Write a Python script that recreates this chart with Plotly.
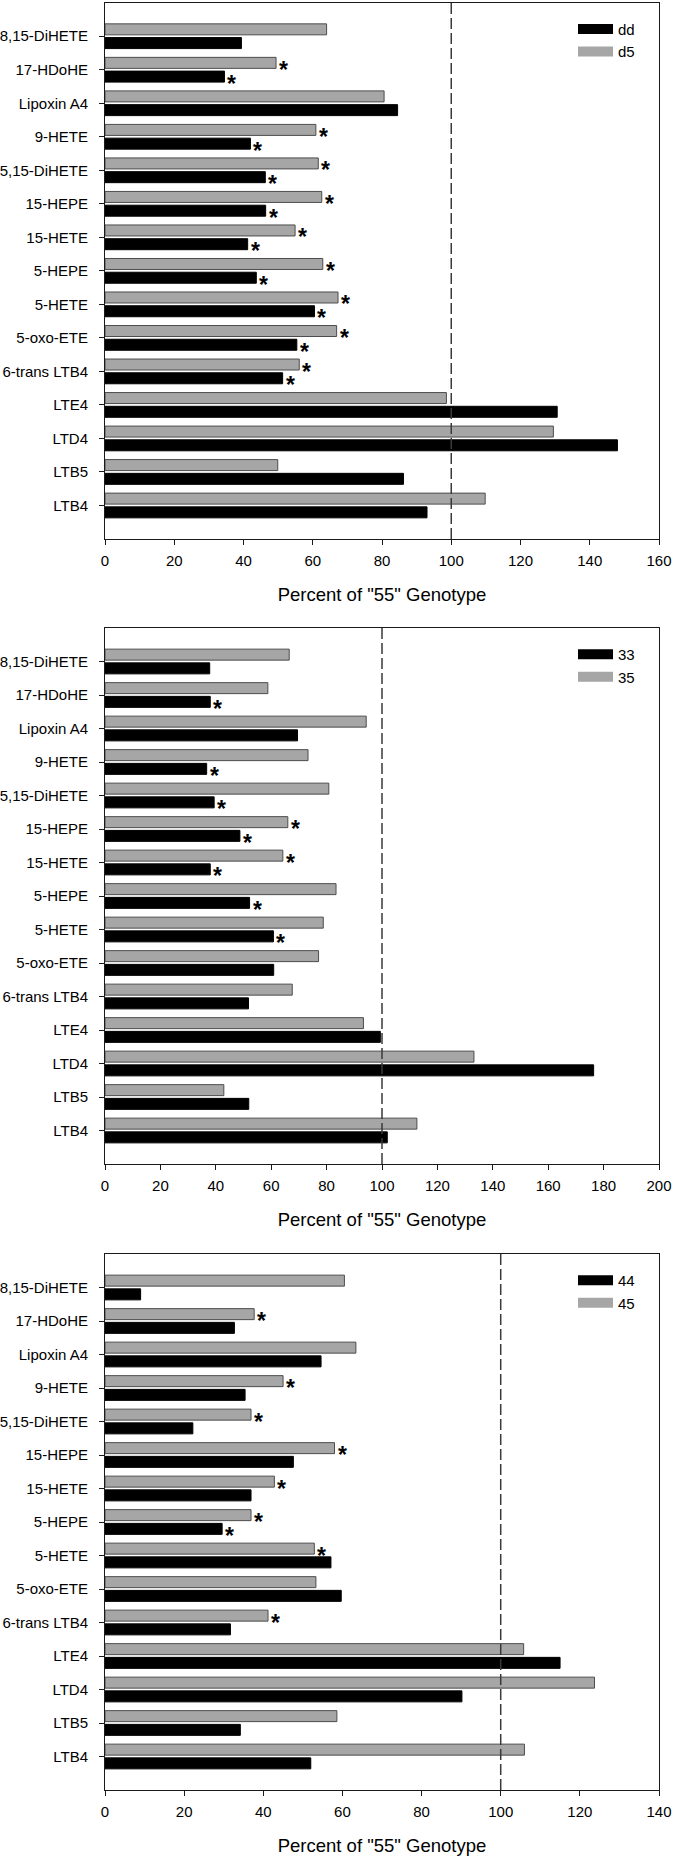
import plotly.graph_objects as go

# ---------------- data (top-to-bottom order) ----------------
categories = ["8,15-DiHETE", "17-HDoHE", "Lipoxin A4", "9-HETE", "5,15-DiHETE",
              "15-HEPE", "15-HETE", "5-HEPE", "5-HETE", "5-oxo-ETE",
              "6-trans LTB4", "LTE4", "LTD4", "LTB5", "LTB4"]

p1_names = ["dd", "d5"]
p1_black = [39.4, 34.5, 84.5, 42.0, 46.3, 46.4, 41.2, 43.7, 60.5, 55.4, 51.3, 130.6, 148.0, 86.2, 93.0]
p1_grey = [64.0, 49.4, 80.6, 60.9, 61.6, 62.6, 54.9, 62.9, 67.3, 66.9, 56.1, 98.6, 129.5, 49.9, 109.8]
p1_black_sig = [0, 1, 0, 1, 1, 1, 1, 1, 1, 1, 1, 0, 0, 0, 0]
p1_grey_sig = [0, 1, 0, 1, 1, 1, 1, 1, 1, 1, 1, 0, 0, 0, 0]

p2_names = ["33", "35"]
p2_black = [37.8, 38.0, 69.5, 36.7, 39.4, 48.7, 38.0, 52.2, 60.8, 60.9, 51.8, 99.4, 176.4, 51.9, 101.9]
p2_grey = [66.5, 58.8, 94.3, 73.3, 80.8, 66.0, 64.2, 83.4, 78.8, 77.1, 67.6, 93.3, 133.2, 42.9, 112.6]
p2_black_sig = [0, 1, 0, 1, 1, 1, 1, 1, 1, 0, 0, 0, 0, 0, 0]
p2_grey_sig = [0, 0, 0, 0, 0, 1, 1, 0, 0, 0, 0, 0, 0, 0, 0]

p3_names = ["44", "45"]
p3_black = [9.0, 32.7, 54.6, 35.4, 22.2, 47.6, 36.9, 29.6, 57.1, 59.7, 31.7, 115.0, 90.2, 34.2, 52.0]
p3_grey = [60.5, 37.7, 63.4, 45.0, 36.9, 58.0, 42.8, 36.9, 52.9, 53.3, 41.2, 105.8, 123.7, 58.6, 106.0]
p3_black_sig = [0, 0, 0, 0, 0, 0, 0, 1, 0, 0, 0, 0, 0, 0, 0]
p3_grey_sig = [0, 1, 0, 1, 1, 1, 1, 1, 1, 0, 1, 0, 0, 0, 0]

x_ranges = [160, 200, 140]
x_title = 'Percent of "55" Genotype'
ref_line = 100

panels = [
    (p1_names, p1_black, p1_grey, p1_black_sig, p1_grey_sig),
    (p2_names, p2_black, p2_grey, p2_black_sig, p2_grey_sig),
    (p3_names, p3_black, p3_grey, p3_black_sig, p3_grey_sig),
]

# ---------------- style / layout ----------------
W, H = 674, 1857
FONT = "Liberation Sans, Arial, sans-serif"
BLACK = "#000000"
GREY = "#a6a6a6"
GREY_LINE = "#4d4d4d"
AXIS = "#1a1a1a"
BARGAP = 0.18
GROUPGAP = 0.2

x_dom = [105 / W, 659 / W]
# panel pixel extents (top, bottom)
panel_px = [(2.7, 539), (628, 1164), (1254, 1790)]
y_doms = [[1 - b / H, 1 - t / H] for t, b in panel_px]

order = categories[::-1]  # bottom-to-top
n = len(categories)
slot = (1 - BARGAP) / 2

fig = go.Figure()
annotations = []
shapes = []
legend_names = ["legend", "legend2", "legend3"]

for k, (names, blk, gry, bsig, gsig) in enumerate(panels):
    xa = "x" if k == 0 else f"x{k+1}"
    ya = "y" if k == 0 else f"y{k+1}"
    fig.add_trace(go.Bar(y=categories, x=blk, orientation="h", name=names[0],
                         marker=dict(color=BLACK, line=dict(color=BLACK, width=1)),
                         xaxis=xa, yaxis=ya, showlegend=False))
    fig.add_trace(go.Bar(y=categories, x=gry, orientation="h", name=names[1],
                         marker=dict(color=GREY, line=dict(color=GREY_LINE, width=1)),
                         xaxis=xa, yaxis=ya, showlegend=False))
    # legend entries
    for nm, col in [(names[0], BLACK), (names[1], GREY)]:
        fig.add_trace(go.Scatter(x=[None], y=[None], mode="lines", name=nm,
                                 line=dict(color=col, width=12),
                                 xaxis=xa, yaxis=ya, legend=legend_names[k]))
    # significance asterisks
    for i, cat in enumerate(categories):
        idx = order.index(cat)
        for val, sig, off in [(blk[i], bsig[i], -slot / 2), (gry[i], gsig[i], slot / 2)]:
            if sig:
                annotations.append(dict(x=val, y=idx + off, xref=xa, yref=ya,
                                        text="<b>*</b>", showarrow=False, xanchor="left",
                                        yanchor="middle", xshift=1, yshift=-7,
                                        font=dict(family=FONT, size=23, color="black")))
    shapes.append(dict(type="line", xref=xa, yref=f"{ya} domain", x0=ref_line, x1=ref_line,
                       y0=0, y1=1, layer="above",
                       line=dict(color="#3a3a3a", width=1.5, dash="11px,4px")))

    axis_common = dict(showline=True, linecolor=AXIS, linewidth=1, mirror=True,
                       ticks="outside", ticklen=5, tickcolor=AXIS, showgrid=False,
                       zeroline=False, automargin=False,
                       tickfont=dict(family=FONT, size=15, color="black"))
    fig.update_layout(**{
        ("xaxis" if k == 0 else f"xaxis{k+1}"): dict(
            domain=x_dom, anchor=ya, range=[0, x_ranges[k]], dtick=20,
            ticklabelstandoff=3,
            title=dict(text=x_title, font=dict(family=FONT, size=18.5, color="black"), standoff=20),
            **axis_common),
        ("yaxis" if k == 0 else f"yaxis{k+1}"): dict(
            domain=y_doms[k], anchor=xa, type="category", categoryorder="array",
            categoryarray=order, range=[-1, n], ticklabelstandoff=8, **axis_common),
        legend_names[k]: dict(x=573 / W, xanchor="left", y=1 - (panel_px[k][0] + 10) / H,
                              yanchor="top", bgcolor="rgba(0,0,0,0)", borderwidth=0,
                              itemwidth=35,
                              font=dict(family=FONT, size=15, color="black"),
                              tracegroupgap=0),
    })

fig.update_layout(width=W, height=H, margin=dict(l=0, r=0, t=0, b=0, autoexpand=False),
                  plot_bgcolor="white", paper_bgcolor="white",
                  barmode="group", bargap=BARGAP, bargroupgap=GROUPGAP,
                  annotations=annotations, shapes=shapes,
                  font=dict(family=FONT, size=15, color="black"))

fig.write_html("out.html", config={"displayModeBar": False},
               post_script="document.body.style.margin='0';document.body.style.padding='0';")
